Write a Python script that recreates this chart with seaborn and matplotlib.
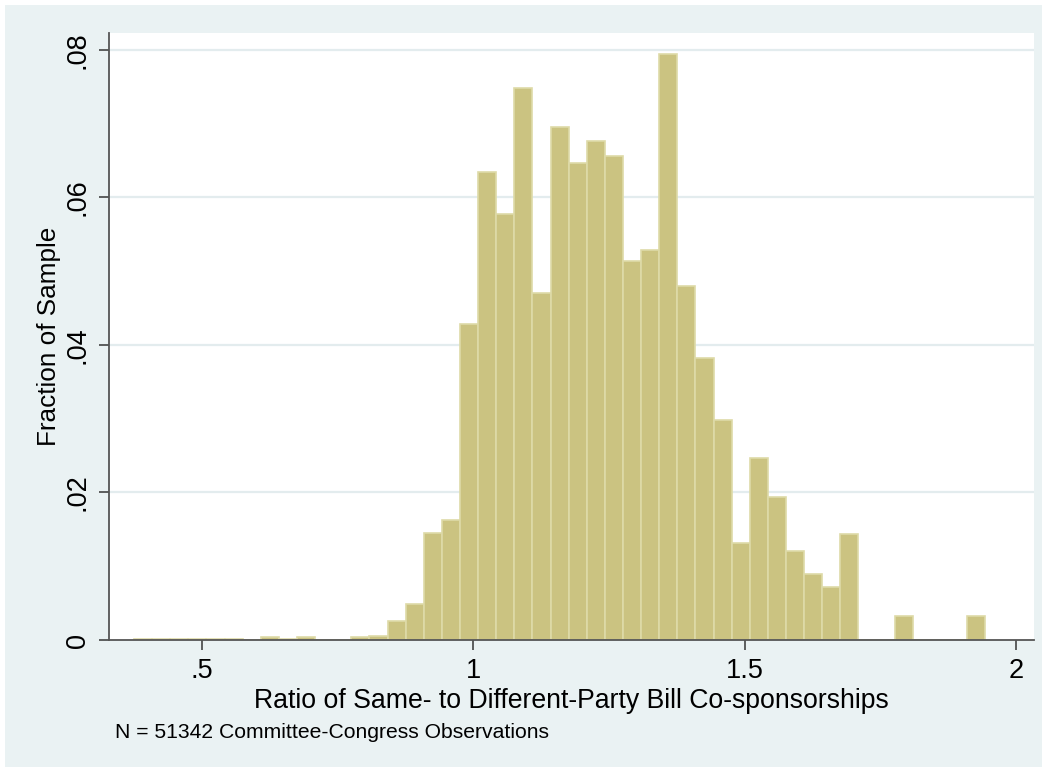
import matplotlib
matplotlib.use('Agg')
import matplotlib.pyplot as plt
import matplotlib.patches as mpatches
import seaborn as sns
import numpy as np
import pandas as pd

# histogram: 47 equal bins, fraction of sample per bin
bin_start = 0.3747
bin_width = 0.03337
fractions = [0.0002, 0.0001, 0.0001, 0.0001, 0.0001, 0.0002, 0.0, 0.0004,
             0.00015, 0.0004, 0.0, 0.0, 0.0004, 0.0005, 0.0026, 0.0049,
             0.0145, 0.0163, 0.0429, 0.0635, 0.0577, 0.0749, 0.0470, 0.0695,
             0.0647, 0.0676, 0.0656, 0.0514, 0.0529, 0.0795, 0.0480, 0.0383,
             0.0298, 0.0131, 0.0247, 0.0194, 0.0121, 0.0089, 0.0072, 0.0144,
             0.0, 0.0, 0.0033, 0.0, 0.0, 0.0, 0.0032]
y_ticks = [0, 0.02, 0.04, 0.06, 0.08]
y_ticklabels = ['0', '.02', '.04', '.06', '.08']
x_ticks = [0.5, 1, 1.5, 2]
x_ticklabels = ['.5', '1', '1.5', '2']

edges = bin_start + bin_width * np.arange(len(fractions) + 1)
df = pd.DataFrame({'ratio': (edges[:-1] + edges[1:]) / 2, 'frac': fractions})
df = df[df['frac'] > 0]

sns.set_style('white')
plt.rcParams['font.family'] = ['Liberation Sans', 'DejaVu Sans']
plt.rcParams['text.color'] = 'black'
plt.rcParams['axes.labelcolor'] = 'black'

bg = '#EAF2F3'
fig = plt.figure(figsize=(10.47, 7.72), dpi=100, facecolor='white')
fig.patches.append(mpatches.Rectangle((5 / 1047, 5 / 772), 1037 / 1047, 762 / 772,
                                      transform=fig.transFigure, facecolor=bg,
                                      edgecolor='none', zorder=-5))
ax = fig.add_axes([109 / 1047, 1 - 640 / 772, 925 / 1047, 607 / 772])
ax.set_facecolor('white')

sns.histplot(data=df, x='ratio', weights='frac', bins=list(edges), ax=ax,
             color='#CBC381', edgecolor='#DEDAA8', linewidth=1.2, alpha=1)

ax.set_xlim(0.3286, 2.0331)
ax.set_ylim(0, 0.0823)
ax.set_yticks(y_ticks)
ax.set_yticklabels(y_ticklabels, rotation=90, va='center')
ax.set_xticks(x_ticks)
ax.set_xticklabels(x_ticklabels)
for y in y_ticks[1:]:
    ax.axhline(y, color='#E3ECEE', linewidth=1.6, zorder=0)

for side in ['top', 'right']:
    ax.spines[side].set_visible(False)
for side in ['left', 'bottom']:
    ax.spines[side].set_color('#555555')
    ax.spines[side].set_linewidth(1.3)
ax.tick_params(axis='both', direction='out', length=7, width=1.2, color='#444444',
               labelsize=19.5, labelcolor='black', left=True, bottom=True)
ax.tick_params(axis='y', pad=6)
ax.tick_params(axis='x', pad=6)

ax.set_xlabel('Ratio of Same- to Different-Party Bill Co-sponsorships', fontsize=19.2, labelpad=3)
ax.set_ylabel('Fraction of Sample', fontsize=18.8, labelpad=3)

fig.text(115 / 1047, 1 - 738 / 772, 'N = 51342 Committee-Congress Observations',
         fontsize=15.2, va='baseline', ha='left')

fig.savefig('out.png', dpi=100, facecolor='white')
